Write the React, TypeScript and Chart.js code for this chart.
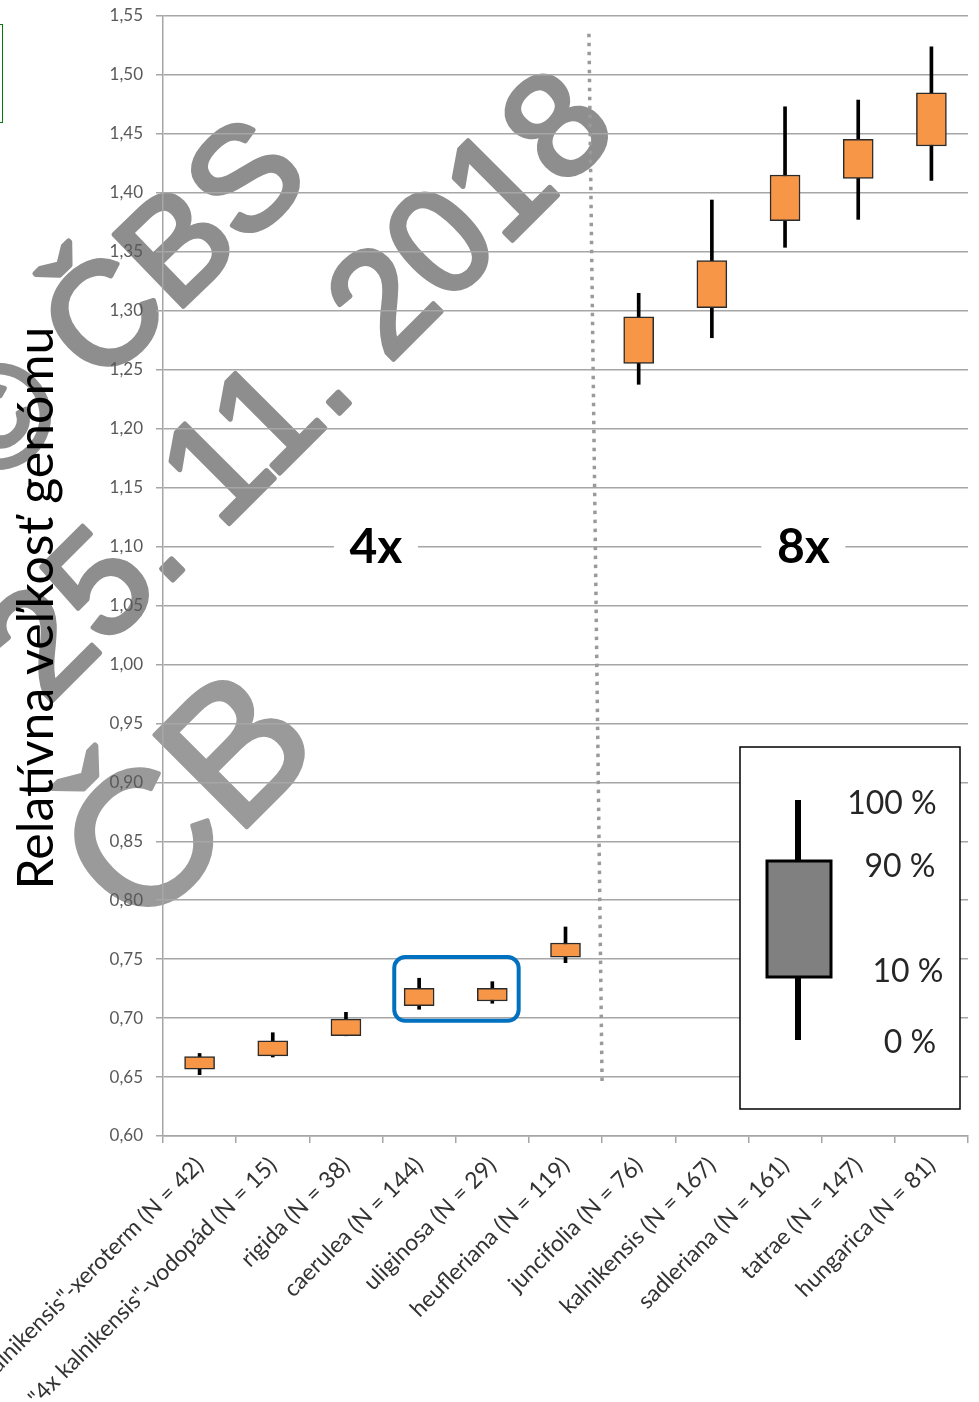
import React, { useEffect, useRef } from 'react';
import { Chart, registerables } from 'chart.js';

Chart.register(...registerables);

// ---- data ----
const categories = [
  '"4x kalnikensis"-xeroterm (N = 42)',
  '"4x kalnikensis"-vodopád (N = 15)',
  'rigida (N = 38)',
  'caerulea (N = 144)',
  'uliginosa (N = 29)',
  'heufleriana (N = 119)',
  'juncifolia (N = 76)',
  'kalnikensis (N = 167)',
  'sadleriana (N = 161)',
  'tatrae (N = 147)',
  'hungarica (N = 81)',
];
const minValues = [0.652, 0.667, 0.685, 0.7075, 0.7126, 0.747, 1.2376, 1.2771, 1.3538, 1.3775, 1.4106];
const p10Values = [0.6566, 0.6679, 0.6851, 0.7105, 0.7145, 0.7516, 1.2554, 1.3025, 1.3764, 1.4123, 1.4397];
const p90Values = [0.6673, 0.6808, 0.6992, 0.7253, 0.7253, 0.7637, 1.2949, 1.3425, 1.4151, 1.4454, 1.4849];
const maxValues = [0.670, 0.6876, 0.7049, 0.7338, 0.7309, 0.7773, 1.3148, 1.3939, 1.473, 1.4787, 1.5239];

const yMin = 0.6;
const yMax = 1.55;
const yStep = 0.05;

const axisTitle = 'Relatívna veľkosť genómu';
const groupLabels = ['4x', '8x'];
const groupLabelPositions = [2.41, 8.25]; // category-index positions
const groupLabelValue = 1.1;
const legendLabels = ['100 %', '90 %', '10 %', '0 %'];
const watermarkLine1 = '© ČBS';
const watermarkLine2 = '25. 11. 2018';
const watermarkLogo = 'ČB';

const overlayPlugin = {
  id: 'overlay',
  beforeDraw(chart: any) {
    const ctx = chart.ctx as CanvasRenderingContext2D;
    ctx.save();
    ctx.fillStyle = '#8e8e8e';
    ctx.strokeStyle = '#8e8e8e';
    ctx.lineJoin = 'round';
    ctx.textAlign = 'center';
    ctx.textBaseline = 'middle';
    const drawRot = (t: string, x: number, y: number, ang: number, font: string, lw: number) => {
      ctx.save();
      ctx.translate(x, y);
      ctx.rotate((ang * Math.PI) / 180);
      ctx.font = font;
      ctx.lineWidth = lw;
      ctx.fillText(t, 0, 0);
      ctx.strokeText(t, 0, 0);
      ctx.restore();
    };
    drawRot(watermarkLine1, 126, 306, -44, '145px "Liberation Sans"', 5);
    drawRot(watermarkLine2, 305, 390, -45, '148px "Liberation Sans"', 5);
    ctx.fillStyle = '#9a9a9a';
    ctx.strokeStyle = '#9a9a9a';
    drawRot(watermarkLogo, 195, 805, -45, '190px "Liberation Sans"', 4);
    ctx.restore();
  },
  afterDraw(chart: any) {
    const ctx = chart.ctx as CanvasRenderingContext2D;
    const { chartArea } = chart;
    const x = chart.scales.x;
    const y = chart.scales.y;

    // dotted divider between 4x and 8x
    ctx.save();
    ctx.strokeStyle = '#9a9a9a';
    ctx.lineWidth = 3.5;
    ctx.setLineDash([3.5, 5.5]);
    ctx.beginPath();
    ctx.moveTo(x.getPixelForValue(5.5 - 0.18), y.getPixelForValue(1.535));
    ctx.lineTo(x.getPixelForValue(5.5), y.getPixelForValue(0.645));
    ctx.stroke();
    ctx.restore();

    // group labels
    ctx.save();
    ctx.font = 'bold 48px Lato';
    ctx.textAlign = 'center';
    ctx.textBaseline = 'middle';
    groupLabels.forEach((t, i) => {
      const px = x.getPixelForValue(groupLabelPositions[i]);
      const py = y.getPixelForValue(groupLabelValue);
      ctx.fillStyle = '#ffffff';
      ctx.fillRect(px - 42, py - 24, 84, 48);
      ctx.fillStyle = '#000000';
      ctx.fillText(t, px, py + 1);
    });
    ctx.restore();

    // blue highlight around caerulea & uliginosa
    ctx.save();
    const bx0 = x.getPixelForValue(3 - 0.34);
    const bx1 = x.getPixelForValue(4 + 0.36);
    const by0 = y.getPixelForValue(0.7518);
    const by1 = y.getPixelForValue(0.6977);
    const r = 11;
    ctx.strokeStyle = '#0070C0';
    ctx.lineWidth = 4;
    ctx.beginPath();
    ctx.moveTo(bx0 + r, by0);
    ctx.lineTo(bx1 - r, by0);
    ctx.arcTo(bx1, by0, bx1, by0 + r, r);
    ctx.lineTo(bx1, by1 - r);
    ctx.arcTo(bx1, by1, bx1 - r, by1, r);
    ctx.lineTo(bx0 + r, by1);
    ctx.arcTo(bx0, by1, bx0, by1 - r, r);
    ctx.lineTo(bx0, by0 + r);
    ctx.arcTo(bx0, by0, bx0 + r, by0, r);
    ctx.closePath();
    ctx.stroke();
    ctx.restore();

    // legend inset
    ctx.save();
    const lx = chartArea.right - 228;
    const ly = chartArea.top + 731;
    ctx.fillStyle = '#ffffff';
    ctx.fillRect(lx, ly, 220, 362);
    ctx.strokeStyle = '#000000';
    ctx.lineWidth = 1.5;
    ctx.strokeRect(lx, ly, 220, 362);
    // whisker
    ctx.fillStyle = '#000000';
    ctx.fillRect(lx + 55, ly + 53, 6, 240);
    // box
    ctx.fillStyle = '#808080';
    ctx.fillRect(lx + 27, ly + 114, 64, 116);
    ctx.lineWidth = 3;
    ctx.strokeRect(lx + 27, ly + 114, 64, 116);
    ctx.fillStyle = '#262626';
    ctx.font = '32px Lato';
    ctx.textAlign = 'center';
    ctx.textBaseline = 'middle';
    const lpos = [
      [152, 57],
      [160, 120],
      [168, 225],
      [170, 296],
    ];
    legendLabels.forEach((t, i) => {
      ctx.fillText(t, lx + lpos[i][0], ly + lpos[i][1]);
    });
    ctx.restore();

    // y axis title
    ctx.save();
    ctx.translate(53, 608);
    ctx.rotate(-Math.PI / 2);
    ctx.font = '50px Lato';
    ctx.fillStyle = '#000000';
    ctx.textAlign = 'center';
    ctx.textBaseline = 'alphabetic';
    ctx.fillText(axisTitle, 0, 0);
    ctx.restore();
  },
};

export default function App() {
  const canvasRef = useRef<HTMLCanvasElement | null>(null);

  useEffect(() => {
    const canvas = canvasRef.current;
    if (!canvas) return;
    const chart = new Chart(canvas, {
      type: 'bar',
      data: {
        labels: categories,
        datasets: [
          {
            label: '10–90 %',
            data: categories.map((_, i) => [p10Values[i], p90Values[i]]),
            backgroundColor: '#F79646',
            borderColor: '#2b2b2b',
            borderWidth: 1.5,
            borderSkipped: false,
            barThickness: 30,
            grouped: false,
            order: 0,
          } as any,
          {
            label: '0–100 %',
            data: categories.map((_, i) => [minValues[i], maxValues[i]]),
            backgroundColor: '#000000',
            borderWidth: 0,
            barThickness: 3,
            grouped: false,
            order: 1,
          } as any,
        ],
      },
      options: {
        responsive: false,
        animation: false,
        devicePixelRatio: 1,
        layout: { padding: { left: 0, right: 11, top: 16, bottom: 0 } },
        plugins: {
          legend: { display: false },
          tooltip: { enabled: false },
          title: { display: false },
        },
        scales: {
          x: {
            type: 'category',
            offset: true,
            grid: {
              display: true,
              drawOnChartArea: false,
              drawTicks: true,
              tickLength: 7,
              offset: true,
              color: '#a6a6a6',
              lineWidth: 1.5,
            },
            border: { display: true, color: '#a6a6a6', width: 1.5 },
            ticks: {
              autoSkip: false,
              minRotation: 45,
              maxRotation: 45,
              padding: 9,
              color: '#333333',
              font: { family: 'Lato', size: 23 },
            },
            afterFit: (scale: any) => {
              scale.height = 266;
              scale.paddingLeft = 0;
              scale.paddingRight = 0;
            },
          },
          y: {
            type: 'linear',
            min: yMin,
            max: yMax,
            ticks: {
              stepSize: yStep,
              padding: 13,
              color: '#595959',
              font: { family: 'Lato', size: 17 },
              callback: (v: any) => Number(v).toFixed(2).replace('.', ','),
            },
            grid: {
              color: '#a6a6a6',
              lineWidth: 1.5,
              tickLength: 7,
              drawTicks: true,
            },
            border: { display: true, color: '#a6a6a6', width: 1.5 },
            afterFit: (scale: any) => {
              scale.width = 163;
              scale.paddingTop = 0;
              scale.paddingBottom = 0;
            },
          },
        },
      },
      plugins: [overlayPlugin],
    });
    return () => chart.destroy();
  }, []);

  return (
    <div style={{ position: 'absolute', left: 0, top: 0, width: 979, height: 1402, overflow: 'hidden', background: '#ffffff' }}>
      <canvas ref={canvasRef} width={979} height={1402} style={{ display: 'block' }} />
      <div
        style={{
          position: 'absolute',
          left: -100,
          top: 24,
          width: 101,
          height: 97,
          border: '1.5px solid #0a7a0a',
        }}
      />
    </div>
  );
}
